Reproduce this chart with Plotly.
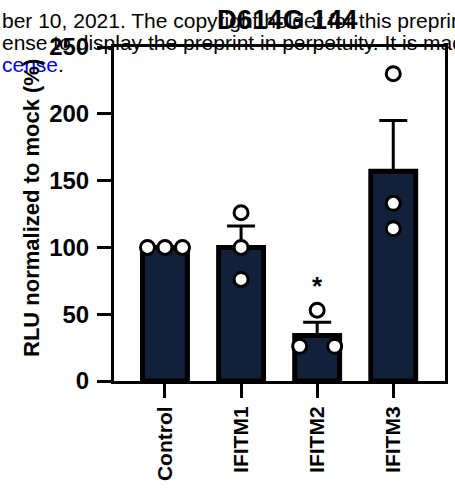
import plotly.graph_objects as go

# ---- data ----
categories = ["Control", "IFITM1", "IFITM2", "IFITM3"]
bar_means = [100, 100, 34, 157]
bar_sem = [0, 16, 10, 38]

control_pts = [100, 100, 100]
ifitm1_pts = [126, 100, 76]
ifitm2_pts = [53, 26, 26]
ifitm3_pts = [230, 133, 114]
point_offsets = [[-0.23, 0, 0.23], [0, 0, 0], [0, -0.23, 0.23], [0, 0, 0]]

y_ticks = [0, 50, 100, 150, 200, 250]

title_text = "D614G 144"
y_title = "RLU normalized to mock (%)"
wm_line1 = "ber 10, 2021. The copyright holder for this preprint"
wm_line2 = "ense to display the preprint in perpetuity. It is made"
wm_line3 = "<span style='color:#0000ee'>cense</span>."

FONT = "Arial, Liberation Sans, sans-serif"
BAR_COLOR = "#12203a"

W, H = 455, 491
L, R, T, B = 114, 10, 47, 110
PW = W - L - R
PH = H - T - B

xpos = list(range(len(categories)))

fig = go.Figure()

fig.add_trace(go.Bar(
    x=xpos, y=bar_means, width=0.59,
    marker=dict(color=BAR_COLOR, line=dict(color="black", width=5)),
    error_y=dict(type="data", array=bar_sem, arrayminus=[0]*4, symmetric=False,
                 color="black", thickness=3, width=14, visible=True),
    showlegend=False, hoverinfo="skip",
))

all_pts = [control_pts, ifitm1_pts, ifitm2_pts, ifitm3_pts]
px, py = [], []
for i, pts in enumerate(all_pts):
    for off, v in zip(point_offsets[i], pts):
        px.append(xpos[i] + off)
        py.append(v)

fig.add_trace(go.Scatter(
    x=px, y=py, mode="markers",
    marker=dict(size=14, color="white", line=dict(color="black", width=3)),
    showlegend=False, hoverinfo="skip", cliponaxis=False,
))

def xp(pix):
    return (pix - L) / PW

def yp(pix):
    return (H - B - pix) / PH

annotations = [
    dict(text=wm_line1, x=xp(0), y=yp(21), xref="paper", yref="paper",
         xanchor="left", yanchor="middle", showarrow=False,
         font=dict(family=FONT, size=21, color="black")),
    dict(text=wm_line2, x=xp(0), y=yp(43), xref="paper", yref="paper",
         xanchor="left", yanchor="middle", showarrow=False,
         font=dict(family=FONT, size=21, color="black")),
    dict(text=wm_line3, x=xp(0), y=yp(64), xref="paper", yref="paper",
         xanchor="left", yanchor="middle", showarrow=False,
         font=dict(family=FONT, size=21, color="black")),
    dict(text="<b>" + title_text + "</b>", x=xp(287.5), y=yp(20), xref="paper", yref="paper",
         xanchor="center", yanchor="middle", showarrow=False,
         font=dict(family=FONT, size=27.5, color="black")),
    dict(text="<b>" + y_title + "</b>", x=xp(31), y=yp(208), xref="paper", yref="paper",
         xanchor="center", yanchor="middle", textangle=-90, showarrow=False,
         font=dict(family=FONT, size=22, color="black")),
    dict(text="<b>*</b>", x=xpos[2], y=71, xref="x", yref="y",
         xanchor="center", yanchor="middle", showarrow=False,
         font=dict(family=FONT, size=26, color="black")),
]

fig.update_layout(
    width=W, height=H,
    margin=dict(l=L, r=R, t=T, b=B, pad=0),
    paper_bgcolor="white", plot_bgcolor="white",
    font=dict(family=FONT, color="black"),
    annotations=annotations,
    bargap=0,
)

fig.update_xaxes(
    range=[-0.67, 3.68], tickvals=xpos, ticktext=["<b>%s</b>" % c for c in categories],
    tickangle=-90, tickfont=dict(family=FONT, size=21, color="black"),
    showline=True, linecolor="black", linewidth=3, mirror=True,
    ticks="outside", ticklen=14, tickwidth=3, tickcolor="black",
    showgrid=False, zeroline=False, automargin=False,
)
fig.update_yaxes(
    range=[0, 250], tickvals=y_ticks, ticktext=["<b>%d</b>" % v for v in y_ticks],
    tickfont=dict(family=FONT, size=24, color="black"),
    showline=True, linecolor="black", linewidth=3, mirror=True,
    ticks="outside", ticklen=14, tickwidth=3, tickcolor="black",
    showgrid=False, zeroline=False, automargin=False, ticklabelstandoff=3,
)

fig.write_html(
    "out.html",
    config={"displayModeBar": False, "staticPlot": True},
    post_script="document.body.style.margin='0';document.body.style.overflow='hidden';",
)
